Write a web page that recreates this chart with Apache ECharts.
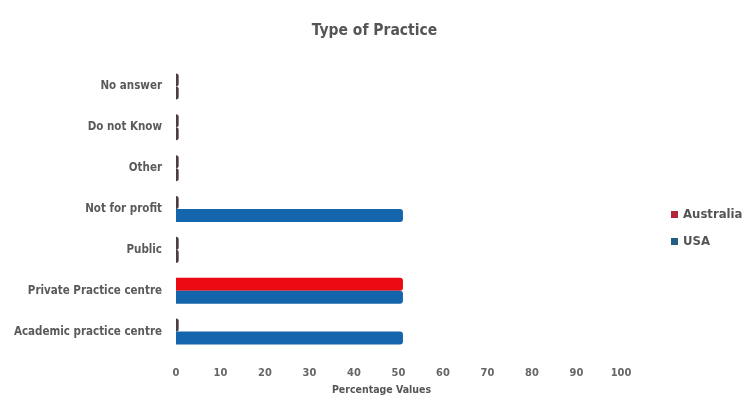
<!DOCTYPE html>
<html>
<head>
<meta charset="utf-8">
<script src="https://cdn.jsdelivr.net/npm/echarts@6/dist/echarts.min.js"></script>
<style>
  html, body { margin: 0; padding: 0; background: #ffffff; }
  #chart { width: 749px; height: 401px; }
</style>
</head>
<body>
<div id="chart"></div>
<script>
// Categories listed bottom-to-top along the vertical axis
const categories = [
  'Academic practice centre',
  'Private Practice centre',
  'Public',
  'Not for profit',
  'Other',
  'Do not Know',
  'No answer'
];

// Percentage of respondents per practice type
const australia = [0.6, 51, 0.6, 0.6, 0.6, 0.6, 0.6];
const usa = [51, 51, 0.6, 51, 0.6, 0.6, 0.6];

const xTicks = [0, 10, 20, 30, 40, 50, 60, 70, 80, 90, 100];

const FONT = '"DejaVu Sans Condensed", "Liberation Sans", sans-serif';

// Near-zero bars show as a dark sliver
function barColor(base) {
  return function (p) { return p.value < 5 ? '#4b3c46' : base; };
}

const chart = echarts.init(document.getElementById('chart'), null, { renderer: 'canvas' });

chart.setOption({
  animation: false,
  backgroundColor: '#ffffff',
  title: {
    text: 'Type of Practice',
    left: 'center',
    top: 18,
    textStyle: { fontFamily: FONT, fontSize: 15.5, fontWeight: 'bold', color: '#555555' }
  },
  legend: {
    data: ['Australia', 'USA'],
    orient: 'vertical',
    left: 666,
    top: 203,
    itemWidth: 7,
    itemHeight: 7,
    itemGap: 14,
    icon: 'rect',
    textStyle: { fontFamily: FONT, fontSize: 13, fontWeight: 'bold', color: '#555555' }
  },
  grid: { left: 176, right: 128, top: 66, bottom: 46, containLabel: false },
  xAxis: {
    type: 'value',
    min: xTicks[0],
    max: xTicks[xTicks.length - 1],
    interval: 10,
    name: 'Percentage Values',
    nameLocation: 'middle',
    nameGap: 33,
    nameTextStyle: { fontFamily: FONT, fontSize: 10.5, fontWeight: 'bold', color: '#555555', padding: [0, 34, 0, 0] },
    axisLine: { show: false },
    axisTick: { show: false },
    splitLine: { show: false },
    axisLabel: { margin: 16, fontFamily: FONT, fontSize: 11, fontWeight: 'bold', color: '#666666' }
  },
  yAxis: {
    type: 'category',
    data: categories,
    axisLine: { show: false },
    axisTick: { show: false },
    axisLabel: { margin: 14, fontFamily: FONT, fontSize: 11.5, fontWeight: 'bold', color: '#5a5a5a' }
  },
  series: [
    {
      name: 'Australia',
      type: 'bar',
      data: australia,
      barWidth: 13,
      barGap: '0%',
      color: '#b1263b',
      itemStyle: { color: barColor('#ec0a12'), borderRadius: [0, 3, 3, 0] }
    },
    {
      name: 'USA',
      type: 'bar',
      data: usa,
      barWidth: 13,
      barGap: '0%',
      color: '#1f5f82',
      itemStyle: { color: barColor('#1565ad'), borderRadius: [0, 3, 3, 0] }
    }
  ]
});
</script>
</body>
</html>
